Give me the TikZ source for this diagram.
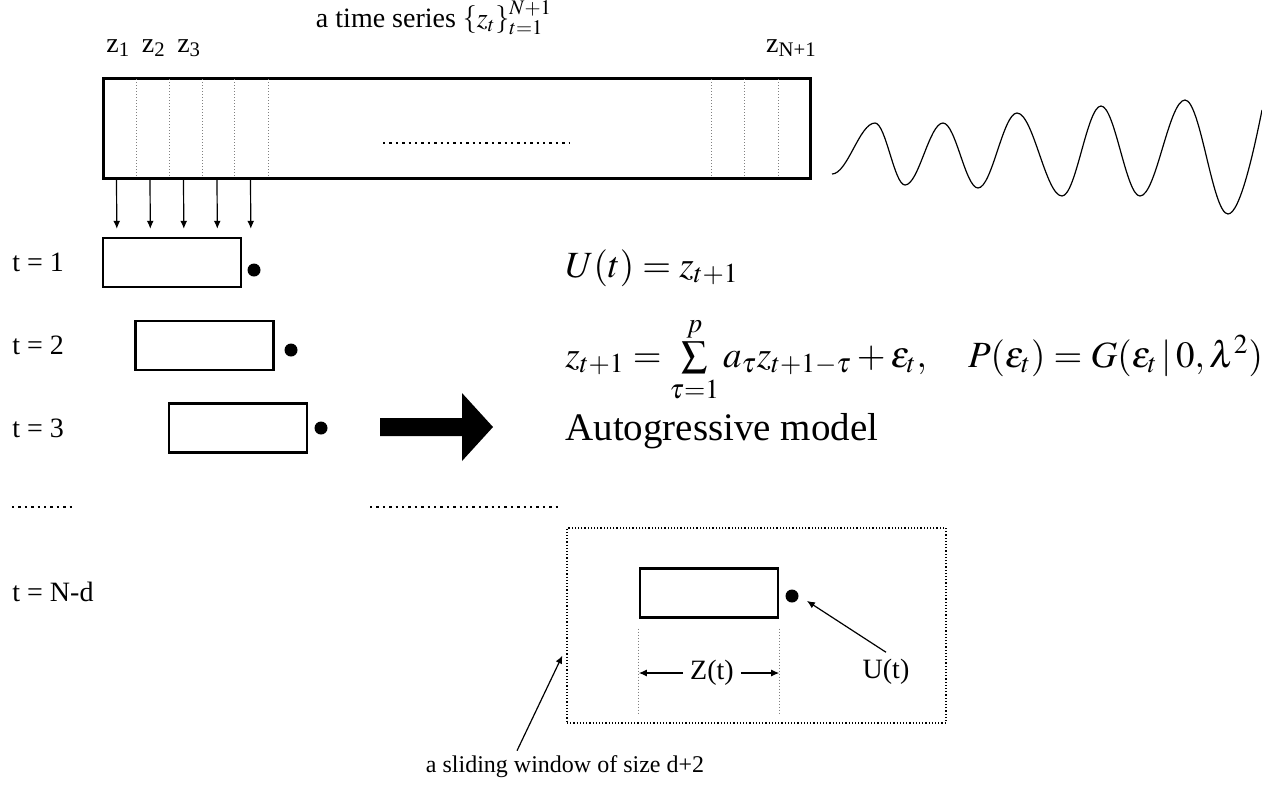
\documentclass[tikz,border=0pt]{standalone}
\usepackage{mathptmx}
\usepackage{fontspec}
\setmainfont{Liberation Serif}
\usetikzlibrary{arrows.meta,calc,positioning}

\begin{document}
\begin{tikzpicture}[x=0.5pt,y=-0.5pt,>={Latex[length=4pt,width=3.5pt]}]
\tikzstyle{win}=[draw,line width=1.2pt,minimum width=69pt,minimum height=24.5pt,inner sep=0pt]
\tikzstyle{dotmark}=[circle,fill,inner sep=0pt,minimum size=6.5pt]
\tikzstyle{lbl}=[font=\fontsize{14}{16}\selectfont]
\tikzstyle{eqn}=[font=\fontsize{18.5}{22}\selectfont,anchor=base west,inner sep=0pt]
\tikzstyle{cellline}=[densely dotted,gray,line width=0.5pt]
\useasboundingbox (0,0) rectangle (1262,784);
% the time series
\node[draw,line width=1.5pt,minimum width=353.5pt,minimum height=50pt,inner sep=0pt] (series) at (456.5,128) {};
\foreach \x in {136,169,202,234,268,711,744,778}
  \draw[cellline] (\x,79) -- (\x,177);
\draw[dotted,line width=1.2pt] (383,143) -- (570,143);
\node[lbl,anchor=base west,inner sep=0pt] (zfirst) at (106,52) {z\textsubscript{1}\, z\textsubscript{2}\, z\textsubscript{3}};
\node[lbl,anchor=base east,inner sep=0pt] (zlast) at (817,52) {z\textsubscript{N+1}};
\node[lbl,anchor=base,inner sep=0pt] (title) at (434,27) {a time series $\left\{z_t\right\}_{t=1}^{N+1}$};
\draw[semithick] (832,174) .. controls (847.5,174) and (859.5,123) .. (875,123)
  .. controls (885.8,123) and (894.2,185) .. (905,185)
  .. controls (918.7,185) and (929.3,123) .. (943,123)
  .. controls (955.6,123) and (965.4,188) .. (978,188)
  .. controls (992,188) and (1003,113) .. (1017,113)
  .. controls (1033.2,113) and (1045.8,196) .. (1062,196)
  .. controls (1076,196) and (1087,106) .. (1101,106)
  .. controls (1115,106) and (1126,196) .. (1140,196)
  .. controls (1156.2,196) and (1168.8,100) .. (1185,100)
  .. controls (1200.5,100) and (1212.5,214) .. (1228,214)
  .. controls (1240,214) and (1254,150) .. (1262,110);
% windows
\node[win] (win1) at (172,262.5) {};
\node[win] (win2) at (204.5,345.5) {};
\node[win] (win3) at (238,428) {};
\node[dotmark] (d1) at (254,270) {};
\node[dotmark] (d2) at (291,350) {};
\node[dotmark] (d3) at (321,428) {};
\foreach \i in {0,...,4}
  \draw[->,semithick] ($(series.south west)+(15+33.5*\i,0)$) -- ($(win1.north west)+(15+33.5*\i,-8)$);
\node[lbl,anchor=base west,inner sep=0pt] (t1) at (12,271) {t = 1};
\node[lbl,anchor=base west,inner sep=0pt] (t2) at (12,354) {t = 2};
\node[lbl,anchor=base west,inner sep=0pt] (t3) at (12,437) {t = 3};
\node[lbl,anchor=base west,inner sep=0pt] (tN) at (12,601) {t = N-d};
\draw[dotted,line width=1.2pt] (12,507) -- (72,507);
\draw[dotted,line width=1.2pt] (370,507) -- (560,507);
\fill (380,418) -- (462,418) -- (462,393) -- (493,427) -- (462,461) -- (462,436) -- (380,436) -- cycle;
% model
\node[eqn] (ueq) at (565,277) {$U(t)=z_{t+1}$};
\node[eqn] (areq) at (565,367) {$z_{t+1}=\sum\limits_{\tau=1}^{p}a_\tau z_{t+1-\tau}+\varepsilon_t,\quad P(\varepsilon_t)=G(\varepsilon_t\,|\,0,\lambda^2)$};
\node[eqn,font=\fontsize{19.5}{22}\selectfont] (armodel) at (565,440) {Autogressive model};
% sliding window
\node[draw,densely dotted,line width=0.6pt,minimum width=189.5pt,minimum height=97.5pt,inner sep=0pt] (slide) at (756.5,625.5) {};
\node[win] (winN) at (709,593) {};
\node[dotmark] (dN) at (792,596) {};
\draw[cellline] ($(winN.south west)+(0,10)$) -- ++(0,85);
\draw[cellline] ($(winN.south east)+(0,10)$) -- ++(0,85);
\node[lbl] (zt) at (712,673) {Z(t)};
\draw[->,semithick] (zt.west) -- (winN.south west |- zt.west);
\draw[->,semithick] (zt.east) -- (winN.south east |- zt.east);
\node[lbl] (ut) at (886,672) {U(t)};
\draw[->,semithick] (ut.north) -- ($(dN.south east)+(10,0)$);
\node[font=\fontsize{12}{14}\selectfont,anchor=base,inner sep=0pt] (slabel) at (565,772) {a sliding window of size d+2};
\draw[->,semithick] ($(slabel.north)+(-48,-4)$) -- ($(slide.west)+(-4,30)$);
\end{tikzpicture}
\end{document}
